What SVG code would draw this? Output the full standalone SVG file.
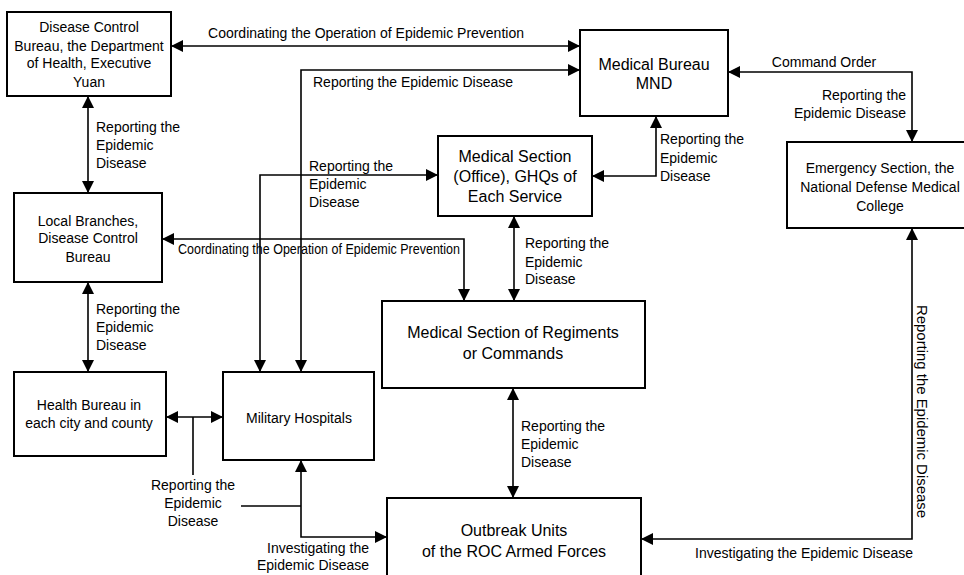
<svg xmlns="http://www.w3.org/2000/svg" width="964" height="575" viewBox="0 0 964 575">
<style>
.box{fill:#fff;stroke:#000;stroke-width:2}
.t{font-family:"Liberation Sans",Arial,sans-serif;font-size:14px;fill:#000}
.b{font-family:"Liberation Sans",Arial,sans-serif;font-size:16px;fill:#000;text-anchor:middle}
.c{text-anchor:middle}
.r{text-anchor:end}
.ln{fill:none;stroke:#000;stroke-width:1.6}
</style>
<defs>
<marker id="ah" markerUnits="userSpaceOnUse" markerWidth="12" markerHeight="12" viewBox="0 0 12 12" refX="12" refY="6" orient="auto-start-reverse">
<path d="M0,0 L12,6 L0,12 z" fill="#000"/>
</marker>
</defs>
<g id="connectors">
<path class="ln" d="M171,46 H580" marker-start="url(#ah)" marker-end="url(#ah)"/>
<path class="ln" d="M301,372 V70 H580" marker-start="url(#ah)" marker-end="url(#ah)"/>
<path class="ln" d="M260,372 V175 H438" marker-start="url(#ah)" marker-end="url(#ah)"/>
<path class="ln" d="M88,96 V193" marker-start="url(#ah)" marker-end="url(#ah)"/>
<path class="ln" d="M88,282 V372" marker-start="url(#ah)" marker-end="url(#ah)"/>
<path class="ln" d="M162,239 H464 V301" marker-start="url(#ah)" marker-end="url(#ah)"/>
<path class="ln" d="M656,116 V176 H592" marker-start="url(#ah)" marker-end="url(#ah)"/>
<path class="ln" d="M728,72 H912 V142" marker-start="url(#ah)" marker-end="url(#ah)"/>
<path class="ln" d="M514,216 V301" marker-start="url(#ah)" marker-end="url(#ah)"/>
<path class="ln" d="M513,388 V498" marker-start="url(#ah)" marker-end="url(#ah)"/>
<path class="ln" d="M641,539 H912 V228" marker-start="url(#ah)" marker-end="url(#ah)"/>
<path class="ln" d="M166,417 H223" marker-start="url(#ah)" marker-end="url(#ah)"/>
<path class="ln" d="M193,417 V475"/>
<path class="ln" d="M241,506 H301"/>
<path class="ln" d="M301,460 V537 H387" marker-start="url(#ah)" marker-end="url(#ah)"/>
<text class="t c" x="366" y="38">Coordinating the Operation of Epidemic Prevention</text>
<text class="t" x="313" y="87">Reporting the Epidemic Disease</text>
<text class="t" x="309" y="171">Reporting the</text>
<text class="t" x="309" y="189">Epidemic</text>
<text class="t" x="309" y="207">Disease</text>
<text class="t" x="96" y="132">Reporting the</text>
<text class="t" x="96" y="150">Epidemic</text>
<text class="t" x="96" y="168">Disease</text>
<text class="t" x="96" y="314">Reporting the</text>
<text class="t" x="96" y="332">Epidemic</text>
<text class="t" x="96" y="350">Disease</text>
<text class="t" x="178" y="254" textLength="282" lengthAdjust="spacingAndGlyphs">Coordinating the Operation of Epidemic Prevention</text>
<text class="t" x="660" y="144">Reporting the</text>
<text class="t" x="660" y="163">Epidemic</text>
<text class="t" x="660" y="181">Disease</text>
<text class="t c" x="824" y="67">Command Order</text>
<text class="t r" x="906" y="100">Reporting the</text>
<text class="t r" x="906" y="118">Epidemic Disease</text>
<text class="t" x="525" y="248">Reporting the</text>
<text class="t" x="525" y="267">Epidemic</text>
<text class="t" x="525" y="284">Disease</text>
<text class="t" x="521" y="431">Reporting the</text>
<text class="t" x="521" y="449">Epidemic</text>
<text class="t" x="521" y="467">Disease</text>
<text class="t r" x="913" y="558">Investigating the Epidemic Disease</text>
<text class="t" transform="translate(917,305) rotate(90)" x="0" y="0" textLength="213" lengthAdjust="spacingAndGlyphs">Reporting the Epidemic Disease</text>
<text class="t c" x="193" y="490">Reporting the</text>
<text class="t c" x="193" y="508">Epidemic</text>
<text class="t c" x="193" y="526">Disease</text>
<text class="t r" x="369" y="553">Investigating the</text>
<text class="t r" x="369" y="570">Epidemic Disease</text>
</g>
<g id="n1">
<rect class="box" x="7" y="12" width="164" height="84"/>
<text class="t c" x="89" y="32">Disease Control</text>
<text class="t c" x="89" y="51">Bureau, the Department</text>
<text class="t c" x="89" y="68">of Health, Executive</text>
<text class="t c" x="89" y="87">Yuan</text>
</g>
<g id="n2">
<rect class="box" x="14" y="193" width="148" height="89"/>
<text class="t c" x="88" y="226">Local Branches,</text>
<text class="t c" x="88" y="243">Disease Control</text>
<text class="t c" x="88" y="262">Bureau</text>
</g>
<g id="n3">
<rect class="box" x="14" y="372" width="152" height="84"/>
<text class="t c" x="89" y="410">Health Bureau in</text>
<text class="t c" x="89" y="428">each city and county</text>
</g>
<g id="n4">
<rect class="box" x="223" y="372" width="151" height="88"/>
<text class="t c" x="299" y="423">Military Hospitals</text>
</g>
<g id="n5">
<rect class="box" x="580" y="30" width="148" height="86"/>
<text class="b" x="654" y="70">Medical Bureau</text>
<text class="b" x="654" y="89">MND</text>
</g>
<g id="n6">
<rect class="box" x="438" y="136" width="154" height="80"/>
<text class="b" x="515" y="162">Medical Section</text>
<text class="b" x="515" y="182">(Office), GHQs of</text>
<text class="b" x="515" y="202">Each Service</text>
</g>
<g id="n7">
<rect class="box" x="787" y="142" width="186" height="86"/>
<text class="t c" x="880" y="173">Emergency Section, the</text>
<text class="t c" x="880" y="192">National Defense Medical</text>
<text class="t c" x="880" y="211">College</text>
</g>
<g id="n8">
<rect class="box" x="382" y="301" width="263" height="87"/>
<text class="b" x="513" y="338">Medical Section of Regiments</text>
<text class="b" x="513" y="359">or Commands</text>
</g>
<g id="n9">
<rect class="box" x="387" y="498" width="254" height="90"/>
<text class="b" x="514" y="536">Outbreak Units</text>
<text class="b" x="514" y="557">of the ROC Armed Forces</text>
</g>
</svg>
